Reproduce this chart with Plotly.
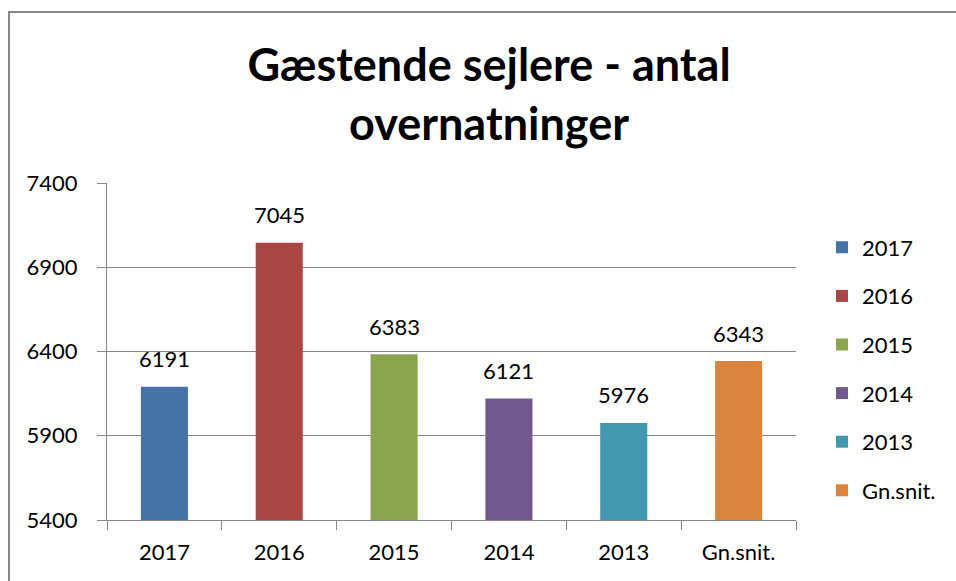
import plotly.graph_objects as go

categories = ["2017", "2016", "2015", "2014", "2013", "Gn.snit."]
values = [6191, 7045, 6383, 6121, 5976, 6343]
colors = ["#4572A7", "#AA4643", "#89A54E", "#71588F", "#4198AF", "#DB843D"]
y_ticks = [5400, 5900, 6400, 6900, 7400]

FONT = "Lato, 'Open Sans', sans-serif"
FS = 22

fig = go.Figure()
for i, (cat, val, col) in enumerate(zip(categories, values, colors)):
    fig.add_trace(go.Bar(
        x=[cat], y=[val], name=cat, marker=dict(color=col, line=dict(width=0)),
        width=0.41, legendgroup=cat,
    ))
    fig.add_annotation(
        x=i, y=val, xref="x", yref="y", text=str(val), showarrow=False,
        yanchor="middle", yshift=28, font=dict(size=FS, color="#000000", family=FONT),
    )

L, R, T, B = 107, 160, 183, 61
W, H = 956, 581
pw, ph = W - L - R, H - T - B

fig.update_layout(
    width=W, height=H,
    margin=dict(l=L, r=R, t=T, b=B),
    paper_bgcolor="white", plot_bgcolor="white",
    barmode="overlay",
    font=dict(family=FONT, size=FS, color="#000000"),
    title=dict(
        text="<b>Gæstende sejlere - antal<br>overnatninger</b>",
        font=dict(size=45, family=FONT, color="#000000"),
        x=489 / W, xref="container", xanchor="center",
        y=1 - 81 / H, yref="container", yanchor="middle",
    ),
    showlegend=True,
    legend=dict(
        x=(822 - L) / pw, xanchor="left",
        y=0.5 - (369 - 351.5) / ph, yanchor="middle",
        font=dict(size=FS, family=FONT), tracegroupgap=17,
        bgcolor="rgba(0,0,0,0)",
    ),
    xaxis=dict(
        type="category", categoryorder="array", categoryarray=categories,
        range=[-0.5, len(categories) - 0.5], autorange=False,
        showline=True, linecolor="#878787", linewidth=1,
        ticks="outside", tickson="boundaries", ticklen=9, tickcolor="#878787",
        showgrid=False, tickfont=dict(size=FS), tickangle=0, ticklabelstandoff=13,
    ),
    yaxis=dict(
        range=[5400, 7400], tickvals=y_ticks, ticktext=[str(t) for t in y_ticks],
        showline=True, linecolor="#878787", linewidth=1,
        ticks="outside", ticklen=9, tickcolor="#878787",
        showgrid=True, gridcolor="#878787", gridwidth=1,
        tickfont=dict(size=FS), zeroline=False, ticklabelstandoff=15,
    ),
    shapes=[dict(
        type="rect", xref="paper", yref="paper",
        x0=(9 - L) / pw, x1=(W + 20 - L) / pw,
        y0=(H - B - (H + 20)) / ph, y1=(H - B - 12) / ph,
        line=dict(color="#878787", width=2), layer="below",
    )],
)

fig.write_html("out.html")
